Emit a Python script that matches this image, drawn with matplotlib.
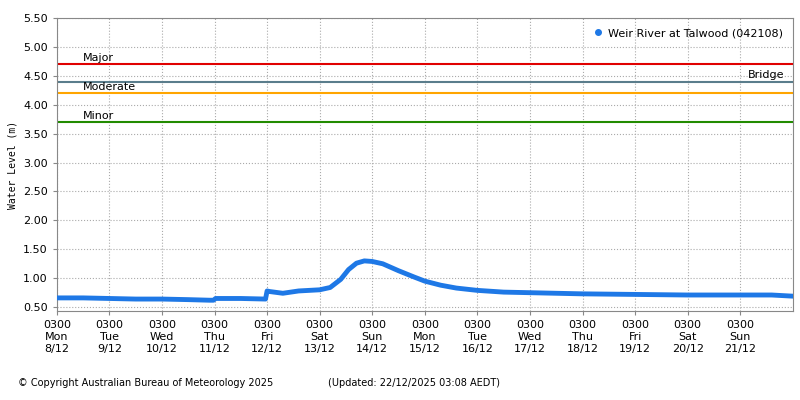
import matplotlib.pyplot as plt
from matplotlib.lines import Line2D
from datetime import datetime, timedelta

# hydrograph key readings: (days since 0300 Mon 8/12, level m)
days = [0.0, 0.5, 1.0, 1.5, 2.0, 2.5, 2.9, 2.98, 3.02, 3.5, 3.97, 4.0, 4.05, 4.3, 4.6, 5.0, 5.2,
        5.4, 5.55, 5.7, 5.85, 6.0, 6.2, 6.5, 6.8, 7.0, 7.3, 7.6, 8.0, 8.5, 9.0, 10.0, 11.0,
        12.0, 13.0, 13.6, 14.0]
level = [0.66, 0.66, 0.65, 0.64, 0.64, 0.63, 0.62, 0.62, 0.65, 0.65, 0.64, 0.78, 0.77, 0.74,
         0.78, 0.80, 0.84, 0.98, 1.15, 1.26, 1.30, 1.29, 1.25, 1.13, 1.02, 0.95, 0.88, 0.83,
         0.79, 0.76, 0.75, 0.73, 0.72, 0.71, 0.71, 0.71, 0.69]

thresholds = {'Major': (4.70, '#e00000'), 'Moderate': (4.20, '#ffa500'),
              'Minor': (3.70, '#228b00')}
bridge = 4.40

start = datetime(2025, 12, 8, 3)
times = [start + timedelta(days=d) for d in days]
tick_days = range(14)
tick_labels = ['0300\nMon\n8/12', '0300\nTue\n9/12', '0300\nWed\n10/12', '0300\nThu\n11/12',
               '0300\nFri\n12/12', '0300\nSat\n13/12', '0300\nSun\n14/12', '0300\nMon\n15/12',
               '0300\nTue\n16/12', '0300\nWed\n17/12', '0300\nThu\n18/12', '0300\nFri\n19/12',
               '0300\nSat\n20/12', '0300\nSun\n21/12']
yticks = [0.5, 1.0, 1.5, 2.0, 2.5, 3.0, 3.5, 4.0, 4.5, 5.0, 5.5]

plt.rcParams['font.family'] = 'DejaVu Sans'
fig = plt.figure(figsize=(8, 4), dpi=100)
ax = fig.add_axes([0.071, 0.222, 0.92, 0.733])

ax.plot(times, level, color='#1e78e6', lw=3.5, solid_capstyle='round', zorder=3)
for name, (v, c) in thresholds.items():
    ax.axhline(v, color=c, lw=1.5, zorder=2)
    ax.text(start + timedelta(days=0.5), v + 0.02, name, fontsize=8, va='bottom')
ax.axhline(bridge, color='#5a7d8c', lw=1.5, zorder=2)
ax.text(start + timedelta(days=13.5), bridge + 0.02, 'Bridge', fontsize=8, va='bottom', ha='center')

ax.set_xlim(start, start + timedelta(days=14))
ax.set_ylim(0.43, 5.5)
ax.set_yticks(yticks)
ax.set_yticklabels(['%.2f' % v for v in yticks], fontsize=8)
ax.set_xticks([start + timedelta(days=d) for d in tick_days])
ax.set_xticklabels(tick_labels, fontsize=8, linespacing=1.25)
ax.grid(True, color='#aaaaaa', linestyle=':', lw=0.8)
ax.set_ylabel('Water Level (m)', fontsize=7, family='DejaVu Sans Mono')
for s in ax.spines.values():
    s.set_color('#888888')
ax.tick_params(length=3, color='#888888')

handle = Line2D([], [], ls='none', marker='o', ms=4, color='#1e78e6')
ax.legend([handle], ['Weir River at Talwood (042108)'], loc='upper right', fontsize=8,
          frameon=False, handlelength=0.8, handletextpad=0.5)

fig.text(0.022, 0.035, '© Copyright Australian Bureau of Meteorology 2025', fontsize=7)
fig.text(0.41, 0.035, '(Updated: 22/12/2025 03:08 AEDT)', fontsize=7)

fig.savefig('out.png', dpi=100)
